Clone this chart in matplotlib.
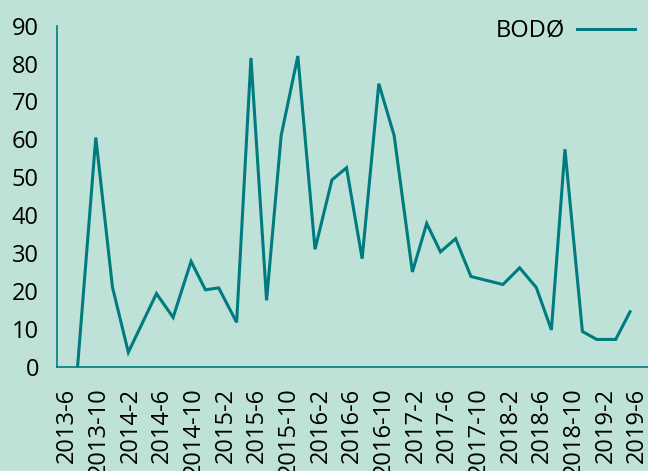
import pandas as pd
import matplotlib
matplotlib.use("Agg")
import matplotlib.pyplot as plt

# Survey dates (roughly bimonthly) and values for Bodø
dates = [
    "2013-07-13", "2013-09-21", "2013-11-24", "2014-01-24", "2014-05-12",
    "2014-07-15", "2014-09-22", "2014-11-16", "2015-01-06", "2015-03-16",
    "2015-05-10", "2015-07-09", "2015-09-03", "2015-11-06", "2016-01-11",
    "2016-03-16", "2016-05-11", "2016-07-10", "2016-09-12", "2016-11-10",
    "2017-01-19", "2017-03-15", "2017-05-07", "2017-07-04", "2017-09-01",
    "2018-01-02", "2018-03-07", "2018-05-10", "2018-07-07", "2018-08-28",
    "2018-11-03", "2018-12-28", "2019-03-11", "2019-05-05",
]
bodo = [
    0, 60.5, 21, 3.8, 19.3,
    13, 27.8, 20.3, 20.8, 11.7,
    81.5, 17.5, 61, 82, 31,
    49.3, 52.5, 28.5, 74.7, 61,
    25, 37.8, 30.3, 33.8, 23.8,
    21.7, 26.1, 20.9, 9.7, 57.4,
    9.3, 7.2, 7.2, 14.5,
]
tick_dates = pd.date_range("2013-06-01", "2019-06-01", freq="4MS")
tick_labels = [f"{d.year}-{d.month}" for d in tick_dates]

bg = "#bee2d7"
teal = "#007b80"

plt.rcParams["font.family"] = ["Open Sans", "DejaVu Sans"]

fig = plt.figure(figsize=(6.48, 4.71), dpi=100, facecolor=bg)
ax = fig.add_axes([57 / 648, 1 - 366.7 / 471, 1 - 57 / 648, (366.7 - 25.7) / 471])
ax.set_facecolor(bg)

x = pd.to_datetime(dates)
ax.plot(x, bodo, color=teal, linewidth=2.2, solid_joinstyle="miter", label="BODØ")

ax.set_ylim(0, 90)
ax.set_yticks(range(0, 91, 10))
ax.set_xlim(pd.Timestamp("2013-04-25"), pd.Timestamp("2019-07-13"))
ax.set_xticks(tick_dates)
ax.set_xticklabels(tick_labels, rotation=90, ha="center", va="top")

ax.tick_params(axis="both", length=0, labelsize=17, colors="black")
ax.tick_params(axis="y", pad=13)
ax.tick_params(axis="x", pad=15)

for side in ["top", "right"]:
    ax.spines[side].set_visible(False)
for side in ["left", "bottom"]:
    ax.spines[side].set_color(teal)
    ax.spines[side].set_linewidth(1.2)

ax.legend(loc="upper right", bbox_to_anchor=(635 / 648, 1 - 19 / 471),
          bbox_transform=fig.transFigure, frameon=False, markerfirst=False,
          fontsize=17, handlelength=2.45, handletextpad=0.5, borderpad=0,
          borderaxespad=0)

fig.savefig("out.png", dpi=100, facecolor=bg)
